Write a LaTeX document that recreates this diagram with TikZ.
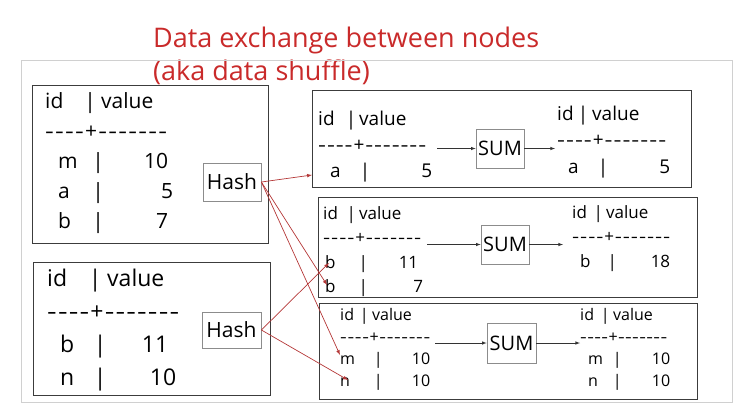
\documentclass[tikz,border=0pt]{standalone}
\usepackage{fontspec}
\usepackage{array}
\usepackage{graphicx}
\setmainfont{Open Sans}[Ligatures=TeXOff]
\usetikzlibrary{arrows}
\definecolor{inkred}{RGB}{201,42,42}
\definecolor{linkred}{RGB}{180,55,55}
\definecolor{framegray}{RGB}{208,208,208}
\definecolor{boxgray}{RGB}{60,60,60}
\newcolumntype{L}[1]{>{\raggedright\arraybackslash}p{#1}}
\newcolumntype{C}[1]{>{\centering\arraybackslash}p{#1}}
\newcolumntype{R}[1]{>{\raggedleft\arraybackslash}p{#1}}
% header: offset of the bar, gap to "value"
\newcommand{\headrow}[2]{\multicolumn{3}{@{}l@{}}{\rlap{id}\hspace*{#1}\makebox[0pt]{|}\hspace*{#2}value}}
% separator spread over a given width
\newcommand{\hy}{\scalebox{1.3}[1]{-}}
\newcommand{\dashrow}[1]{\multicolumn{3}{@{}l@{}}{\makebox[#1][s]{\hy\hfil\hy\hfil\hy\hfil\hy\hfil+\hfil\hy\hfil\hy\hfil\hy\hfil\hy\hfil\hy\hfil\hy\hfil\hy}}}

\begin{document}
\begin{tikzpicture}[x=1pt,y=-1pt,>=latex,
  box/.style={draw=boxgray,line width=1.1pt,anchor=north west,inner sep=0pt},
  opbox/.style={draw=black!45,line width=0.8pt,inner sep=0pt,minimum height=38pt},
  tbl/.style={anchor=base west,inner sep=0pt},
  flow/.style={->,draw=black!80,line width=0.6pt},
  link/.style={->,draw=linkred,line width=0.7pt}]
\useasboundingbox (0,0) rectangle (749,416);
\node[anchor=base west,align=left,text=inkred,inner sep=0pt,
  font=\fontsize{27}{33}\selectfont] (title) at (153,80)
  {Data exchange between nodes\\(aka data shuffle)};
\node[draw=framegray,line width=1.4pt,anchor=north west,inner sep=0pt,
  minimum width=711pt,minimum height=342pt] (frame) at (21,60) {};
% source nodes
\node[box,minimum width=236pt,minimum height=158pt] (src1) at (32,85) {};
\node[box,minimum width=237pt,minimum height=133pt] (src2) at (33,262) {};
\node[tbl,font=\fontsize{21}{30}\selectfont] (t1) at (45,108)
  {\begin{tabular}[t]{@{}L{46pt}@{}C{14pt}@{}R{63pt}@{}}
   \headrow{45pt}{11pt}\\ \dashrow{122pt}\\
   \hspace{13pt}m & | & 10\\ \hspace{13pt}a & | & 5\kern-5pt\\ \hspace{13pt}b & | & 7
   \end{tabular}};
\node[tbl,font=\fontsize{23}{33}\selectfont] (t2) at (47,286)
  {\begin{tabular}[t]{@{}L{46pt}@{}C{14pt}@{}R{65pt}@{}}
   \headrow{48pt}{12pt}\\ \dashrow{132pt}\\
   \hspace{13pt}b & | & 11\kern4pt\\ \hspace{13pt}n & | & 10\kern-4pt
   \end{tabular}};
\node[opbox,minimum width=58pt,font=\fontsize{21}{25}\selectfont] (hash1) at (232,182) {Hash};
\node[opbox,minimum width=59pt,minimum height=36pt,font=\fontsize{21}{25}\selectfont] (hash2) at (231.5,330) {Hash};
% target nodes
\node[box,minimum width=379pt,minimum height=97pt] (dst1) at (312,90) {};
\node[box,minimum width=379pt,minimum height=100pt] (dst2) at (318,197) {};
\node[box,minimum width=378pt,minimum height=96pt] (dst3) at (319,303) {};
\node[tbl,font=\fontsize{19}{26}\selectfont] (r1in) at (318,125)
  {\begin{tabular}[t]{@{}L{40pt}@{}C{14pt}@{}R{60pt}@{}}
   \headrow{33pt}{8pt}\\ \dashrow{108pt}\\ \hspace{12pt}a & | & 5
   \end{tabular}};
\node[tbl,font=\fontsize{19}{26.5}\selectfont] (r1out) at (557,120)
  {\begin{tabular}[t]{@{}L{39pt}@{}C{14pt}@{}R{60pt}@{}}
   \headrow{26pt}{9pt}\\ \dashrow{109pt}\\ \hspace{11pt}a & | & 5
   \end{tabular}};
\node[tbl,font=\fontsize{17}{24.5}\selectfont] (r2in) at (323,219)
  {\begin{tabular}[t]{@{}L{33pt}@{}C{14pt}@{}R{48pt}@{}}
   \headrow{28pt}{8pt}\\ \dashrow{98pt}\\ \hspace{2pt}b & | & 11\\ \hspace{2pt}b & | & 7\kern-5pt
   \end{tabular}};
\node[tbl,font=\fontsize{17}{24.5}\selectfont] (r2out) at (572,218)
  {\begin{tabular}[t]{@{}L{33pt}@{}C{14pt}@{}R{51pt}@{}}
   \headrow{26pt}{8pt}\\ \dashrow{98pt}\\ \hspace{8pt}b & | & 18
   \end{tabular}};
\node[tbl,font=\fontsize{16}{22}\selectfont] (r3in) at (340,320)
  {\begin{tabular}[t]{@{}L{31pt}@{}C{14pt}@{}R{45pt}@{}}
   \headrow{24pt}{8pt}\\ \dashrow{90pt}\\ m & | & 10\\ n & | & 10
   \end{tabular}};
\node[tbl,font=\fontsize{16}{22}\selectfont] (r3out) at (580,320)
  {\begin{tabular}[t]{@{}L{30pt}@{}C{14pt}@{}R{46pt}@{}}
   \headrow{25pt}{8pt}\\ \dashrow{87pt}\\ \hspace{8pt}m & | & 10\\ \hspace{8pt}n & | & 10
   \end{tabular}};
\node[opbox,minimum width=48pt,minimum height=39pt,font=\fontsize{20}{24}\selectfont] (sum1) at (500,148.5) {SUM};
\node[opbox,minimum width=48pt,minimum height=39pt,font=\fontsize{20}{24}\selectfont] (sum2) at (505,244.5) {SUM};
\node[opbox,minimum width=49pt,minimum height=40pt,font=\fontsize{20}{24}\selectfont] (sum3) at (511.5,343) {SUM};
% arrow ends
\coordinate (in1) at (437,148.5);
\coordinate (out1) at (555,148.5);
\coordinate (in2) at (427,244.5);
\coordinate (out2) at (563,244.5);
\coordinate (in3) at (435,343);
\coordinate (out3) at (580,343);
\coordinate (to-a) at (312,175);
\coordinate (to-b7) at (327,285);
\coordinate (to-m) at (340,355);
\coordinate (to-b11) at (329,263);
\coordinate (to-n) at (348,380);
\draw[flow] (in1) -- (sum1.west);
\draw[flow] (sum1.east) -- (out1);
\draw[flow] (in2) -- (sum2.west);
\draw[flow] (sum2.east) -- (out2);
\draw[flow] (in3) -- (sum3.west);
\draw[flow] (sum3.east) -- (out3);
\draw[link] (hash1.east) -- (to-a);
\draw[link] (hash1.east) -- (to-b7);
\draw[link] (hash1.east) -- (to-m);
\draw[link] (hash2.east) -- (to-b11);
\draw[link] (hash2.east) -- (to-n);
\end{tikzpicture}
\end{document}
